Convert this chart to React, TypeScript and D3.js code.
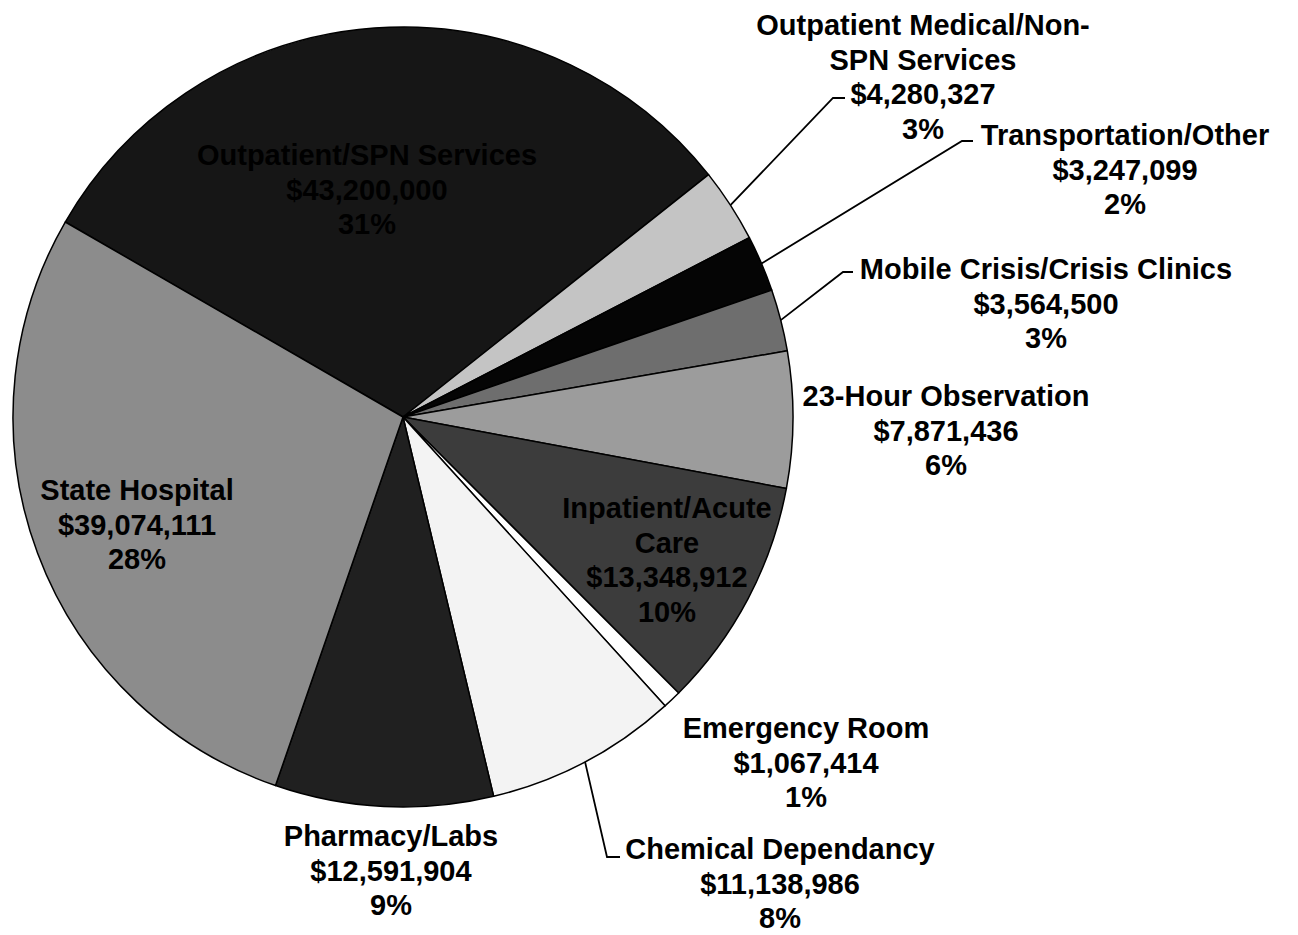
import { useEffect, useRef } from 'react';
import * as d3 from 'd3';

// slice order, clockwise from the upper-left edge of the big slice
const categories: string[] = [
  'Outpatient/SPN Services',
  'Outpatient Medical/Non-SPN Services',
  'Transportation/Other',
  'Mobile Crisis/Crisis Clinics',
  '23-Hour Observation',
  'Inpatient/Acute Care',
  'Emergency Room',
  'Chemical Dependancy',
  'Pharmacy/Labs',
  'State Hospital',
];

// the first value is hidden (black text on black) and is estimated
const amounts: number[] = [
  43200000, 4280327, 3247099, 3564500, 7871436, 13348912, 1067414, 11138986, 12591904, 39074111,
];

// how each category name wraps in its label
const nameLines: string[][] = [
  ['Outpatient/SPN Services'],
  ['Outpatient Medical/Non-', 'SPN Services'],
  ['Transportation/Other'],
  ['Mobile Crisis/Crisis Clinics'],
  ['23-Hour Observation'],
  ['Inpatient/Acute', 'Care'],
  ['Emergency Room'],
  ['Chemical Dependancy'],
  ['Pharmacy/Labs'],
  ['State Hospital'],
];

const fills = ['#161616', '#c4c4c4', '#050505', '#6e6e6e', '#9c9c9c', '#3c3c3c', '#ffffff', '#f3f3f3', '#202020', '#8c8c8c'];

// label anchor (centre x, first baseline) and optional leader elbow
interface LabelPos {
  x: number;
  y: number;
  elbow?: [number, number];
  end?: [number, number];
}
const labelPos: LabelPos[] = [
  { x: 367, y: 165 },
  { x: 923, y: 35, elbow: [833, 98], end: [845, 98] },
  { x: 1125, y: 145, elbow: [962, 141], end: [973, 141] },
  { x: 1046, y: 279, elbow: [843, 272], end: [853, 272] },
  { x: 946, y: 406 },
  { x: 667, y: 518 },
  { x: 806, y: 738 },
  { x: 780, y: 859, elbow: [607, 857], end: [620, 857] },
  { x: 391, y: 846 },
  { x: 137, y: 500 },
];

const App: React.FC = () => {
  const svgRef = useRef<SVGSVGElement | null>(null);

  useEffect(() => {
    if (!svgRef.current) return;
    const cx = 403;
    const cy = 417;
    const radius = 390;
    const lineH = 34.5;

    const svg = d3.select(svgRef.current);
    svg.selectAll('*').remove();

    const total = d3.sum(amounts);
    const pct = d3.format('.0%');
    const money = d3.format('$,');

    const start = (-60 * Math.PI) / 180;
    const pie = d3
      .pie<number>()
      .sort(null)
      .value((d) => d)
      .startAngle(start)
      .endAngle(start + 2 * Math.PI);
    const arcs = pie(amounts);
    const arc = d3.arc<d3.PieArcDatum<number>>().innerRadius(0).outerRadius(radius);

    const g = svg.append('g').attr('transform', `translate(${cx},${cy})`);
    g.selectAll('path')
      .data(arcs)
      .enter()
      .append('path')
      .attr('d', arc)
      .attr('fill', (_, i) => fills[i])
      .attr('stroke', '#000')
      .attr('stroke-width', 1.5)
      .attr('stroke-linejoin', 'round');

    // leader lines
    arcs.forEach((a, i) => {
      const p = labelPos[i];
      if (!p.elbow || !p.end) return;
      const mid = (a.startAngle + a.endAngle) / 2;
      const sx = cx + radius * Math.sin(mid);
      const sy = cy - radius * Math.cos(mid);
      svg
        .append('polyline')
        .attr('points', `${sx},${sy} ${p.elbow[0]},${p.elbow[1]} ${p.end[0]},${p.end[1]}`)
        .attr('fill', 'none')
        .attr('stroke', '#000')
        .attr('stroke-width', 1.8);
    });

    // labels
    categories.forEach((_, i) => {
      const lines = [...nameLines[i], money(amounts[i]), pct(amounts[i] / total)];
      const p = labelPos[i];
      const t = svg
        .append('text')
        .attr('text-anchor', 'middle')
        .attr('font-family', '"Liberation Sans", Arial, sans-serif')
        .attr('font-weight', 'bold')
        .attr('font-size', 29)
        .attr('fill', '#000');
      lines.forEach((line, j) => {
        t.append('tspan')
          .attr('x', p.x)
          .attr('y', p.y + j * lineH)
          .text(line);
      });
    });
  }, []);

  return (
    <svg
      ref={svgRef}
      width={1298}
      height={935}
      style={{ position: 'absolute', left: 0, top: 0, background: '#fff' }}
    ></svg>
  );
};

export default App;
